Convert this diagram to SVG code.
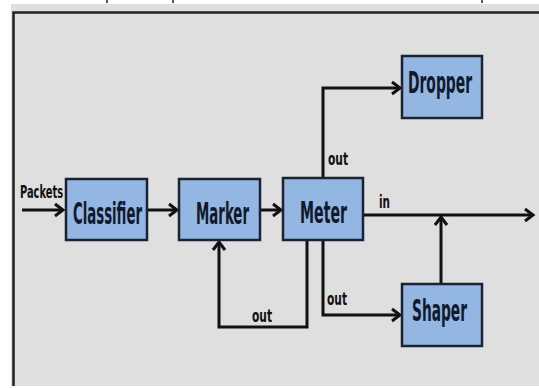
<svg xmlns="http://www.w3.org/2000/svg" width="539" height="388" viewBox="0 0 539 388">
  <style>
    .box { fill: #93b6e2; stroke: #1a2333; stroke-width: 2.5; }
    .lbl { font-family: "DejaVu Sans Condensed", "Liberation Sans Narrow", "Liberation Sans", sans-serif; font-weight: bold; fill: #101a2c; }
    .big { font-size: 30px; }
    .small { font-size: 17px; fill: #111; }
    .pk { font-size: 18px; fill: #111; }
    .conn { fill: none; stroke: #111; stroke-width: 3; stroke-linejoin: miter; }
  </style>
  <defs>
    <marker id="arr" markerUnits="userSpaceOnUse" markerWidth="16" markerHeight="16" viewBox="-10 -8 12 16" refX="0" refY="0" orient="auto">
      <path d="M-8,-6 L0,0 L-8,6" fill="none" stroke="#111" stroke-width="3" stroke-linejoin="miter"/>
    </marker>
  </defs>
  <rect x="0" y="0" width="539" height="388" fill="#ffffff"/>
  <rect x="11" y="4" width="528" height="382" fill="#dfdfdf"/>
  <path d="M539,12.5 L13.5,12.5 L13.5,386" fill="none" stroke="#222" stroke-width="2.5"/>
  <line x1="107" y1="0" x2="107" y2="3" stroke="#222" stroke-width="1.5"/>
  <line x1="173" y1="0" x2="173" y2="3" stroke="#222" stroke-width="1.5"/>
  <line x1="482" y1="0" x2="482" y2="3" stroke="#222" stroke-width="1.5"/>

  <g id="connectors">
    <path class="conn" d="M22,210 L63,210" marker-end="url(#arr)"/>
    <path class="conn" d="M147,210 L177,210" marker-end="url(#arr)"/>
    <path class="conn" d="M260,210 L281,210" marker-end="url(#arr)"/>
    <path class="conn" d="M323,178 L323,88 L400,88" marker-end="url(#arr)"/>
    <path class="conn" d="M363,215 L533,215" marker-end="url(#arr)"/>
    <path class="conn" d="M441,284 L441,217" marker-end="url(#arr)"/>
    <path class="conn" d="M307,240 L307,327 L219,327 L219,242" marker-end="url(#arr)"/>
    <path class="conn" d="M323,240 L323,315 L400,315" marker-end="url(#arr)"/>
    <text class="lbl pk" transform="translate(20,198) scale(0.6,1)" textLength="71.7" lengthAdjust="spacingAndGlyphs">Packets</text>
    <text class="lbl small" transform="translate(328,165) scale(0.7,1)" textLength="28.6" lengthAdjust="spacingAndGlyphs">out</text>
    <text class="lbl small" transform="translate(379,208) scale(0.7,1)" textLength="15.7" lengthAdjust="spacingAndGlyphs">in</text>
    <text class="lbl small" transform="translate(252,322) scale(0.7,1)" textLength="28.6" lengthAdjust="spacingAndGlyphs">out</text>
    <text class="lbl small" transform="translate(327,305) scale(0.7,1)" textLength="28.6" lengthAdjust="spacingAndGlyphs">out</text>
  </g>

  <g id="classifier">
    <rect class="box" x="66" y="179" width="81" height="61"/>
    <text class="lbl big" transform="translate(73,224) scale(0.5,1)" textLength="138" lengthAdjust="spacingAndGlyphs">Classifier</text>
  </g>
  <g id="marker">
    <rect class="box" x="179" y="179" width="81" height="61"/>
    <text class="lbl big" transform="translate(196,224) scale(0.5,1)" textLength="106" lengthAdjust="spacingAndGlyphs">Marker</text>
  </g>
  <g id="meter">
    <rect class="box" x="283" y="178" width="80" height="62"/>
    <text class="lbl big" transform="translate(300,223) scale(0.5,1)" textLength="94" lengthAdjust="spacingAndGlyphs">Meter</text>
  </g>
  <g id="dropper">
    <rect class="box" x="402" y="56" width="80" height="62"/>
    <text class="lbl big" transform="translate(408,93) scale(0.5,1)" textLength="128" lengthAdjust="spacingAndGlyphs">Dropper</text>
  </g>
  <g id="shaper">
    <rect class="box" x="402" y="284" width="80" height="62"/>
    <text class="lbl big" transform="translate(412,321) scale(0.5,1)" textLength="110" lengthAdjust="spacingAndGlyphs">Shaper</text>
  </g>
</svg>
